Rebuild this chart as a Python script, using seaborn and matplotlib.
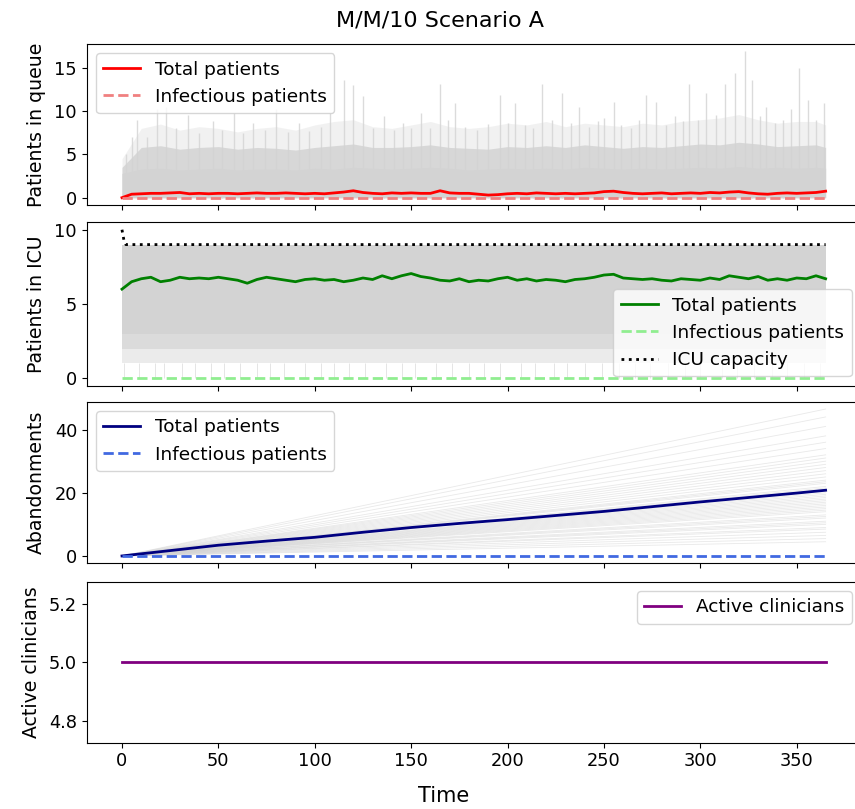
import numpy as np
import pandas as pd
import matplotlib
matplotlib.use("Agg")
import matplotlib.pyplot as plt
import seaborn as sns

# ---------------- data ----------------
t5 = sorted(set(list(range(0, 366, 5)) + [365]))

queue_mean = [0.0, 0.4, 0.45, 0.5, 0.5, 0.55, 0.6, 0.45, 0.5, 0.45, 0.5, 0.5, 0.45, 0.5,
              0.55, 0.5, 0.5, 0.55, 0.5, 0.45, 0.5, 0.45, 0.55, 0.65, 0.8, 0.6, 0.5, 0.45,
              0.55, 0.5, 0.55, 0.5, 0.5, 0.8, 0.55, 0.5, 0.5, 0.4, 0.3, 0.35, 0.45, 0.5,
              0.45, 0.55, 0.5, 0.45, 0.5, 0.45, 0.5, 0.55, 0.7, 0.75, 0.6, 0.5, 0.45, 0.5,
              0.55, 0.45, 0.5, 0.55, 0.5, 0.6, 0.55, 0.65, 0.7, 0.55, 0.45, 0.4, 0.5, 0.55,
              0.5, 0.55, 0.6, 0.75]

icu_mean = [6.0, 6.5, 6.7, 6.8, 6.5, 6.6, 6.8, 6.7, 6.75, 6.7, 6.8, 6.7, 6.6, 6.4, 6.65,
            6.8, 6.7, 6.6, 6.5, 6.65, 6.7, 6.6, 6.65, 6.5, 6.6, 6.75, 6.65, 6.9, 6.7, 6.9,
            7.05, 6.85, 6.75, 6.6, 6.55, 6.7, 6.5, 6.6, 6.55, 6.7, 6.8, 6.6, 6.7, 6.55,
            6.65, 6.6, 6.5, 6.65, 6.7, 6.8, 6.95, 7.0, 6.75, 6.7, 6.65, 6.7, 6.6, 6.55,
            6.7, 6.65, 6.6, 6.75, 6.65, 6.9, 6.8, 6.7, 6.85, 6.6, 6.7, 6.6, 6.75, 6.7,
            6.9, 6.7]

aband_t = [0, 25, 50, 75, 100, 125, 150, 175, 200, 225, 250, 275, 300, 325, 350, 365]
aband_mean = [0.0, 1.7, 3.4, 4.7, 5.9, 7.5, 9.0, 10.3, 11.5, 12.8, 14.1, 15.6, 17.1,
              18.5, 19.9, 20.8]

ends_t = [0, 365]
infectious_zero = [0, 0]
cap_t = [0, 1, 2, 365]
icu_capacity = [10, 9.3, 9, 9]
clinicians = [5, 5]

# grey envelope of individual runs: queue
band_t = list(range(0, 361, 10)) + [365]
queue_core = [2.8, 3.3, 3.4, 3.2, 3.3, 3.4, 3.2, 3.3, 3.3, 3.2, 3.4, 3.3, 3.5, 3.4, 3.3,
              3.4, 3.5, 3.4, 3.2, 3.3, 3.4, 3.3, 3.4, 3.3, 3.5, 3.4, 3.3, 3.4, 3.3, 3.4,
              3.5, 3.4, 3.6, 3.4, 3.5, 3.4, 3.5, 3.4]
queue_upper = [3.5, 5.8, 6.0, 5.6, 5.8, 5.9, 5.6, 5.8, 5.7, 5.5, 5.8, 6.0, 6.2, 5.8, 5.8,
               5.9, 6.1, 5.8, 5.7, 5.6, 5.9, 5.8, 6.0, 5.8, 6.1, 5.9, 5.7, 5.9, 5.8, 6.0,
               6.2, 6.1, 6.4, 6.2, 5.9, 6.0, 6.1, 5.8]
queue_haze = [4.5, 8.0, 8.5, 7.8, 8.2, 8.0, 7.6, 8.0, 8.2, 7.8, 8.4, 8.8, 9.0, 8.2, 8.0,
              8.4, 8.8, 8.2, 8.0, 8.2, 8.6, 8.4, 8.8, 8.2, 8.6, 8.4, 8.2, 8.6, 8.4, 8.8,
              9.0, 9.2, 9.6, 9.0, 8.6, 8.8, 8.8, 8.4]
spike_t = [2, 5, 8, 13, 18, 23, 28, 34, 40, 47, 52, 58, 63, 68, 74, 80, 86, 92, 97, 103,
           108, 115, 120, 125, 130, 136, 141, 146, 150, 155, 160, 165, 169, 173, 178, 184,
           190, 196, 200, 204, 209, 213, 218, 223, 228, 233, 237, 242, 247, 250, 255, 259,
           264, 268, 272, 277, 282, 287, 291, 294, 299, 303, 308, 313, 318, 323, 327, 331,
           334, 339, 343, 347, 351, 356, 360, 364]
spike_h = [5.0, 7.0, 9.0, 7.0, 10.2, 10.5, 8.0, 9.6, 7.5, 8.8, 7.8, 9.8, 7.5, 8.6, 7.8,
           10.2, 7.6, 8.6, 7.7, 8.2, 9.8, 13.6, 13.0, 11.7, 8.0, 9.4, 7.8, 8.6, 8.0, 9.8,
           8.0, 13.1, 9.0, 10.9, 8.2, 7.8, 8.5, 11.9, 8.6, 10.9, 8.4, 8.0, 13.1, 9.0, 12.1,
           8.6, 10.5, 8.2, 8.8, 9.2, 11.1, 8.4, 8.0, 9.0, 11.9, 11.1, 8.4, 9.4, 8.8, 13.1,
           9.0, 12.1, 9.6, 13.1, 14.4, 16.9, 13.6, 9.4, 10.5, 8.6, 9.0, 10.2, 15.0, 11.3,
           9.0, 10.9]

# grey envelope of individual runs: ICU occupancy
icu_band_t = [0, 365]
icu_top = [9, 9]
icu_solid_lo = [3, 3]
icu_mid_lo = [2, 2]
icu_low_lo = [1, 1]
icu_dip_t = [1, 9, 17, 22, 31, 38, 46, 53, 61, 70, 77, 84, 95, 103, 110, 118, 126, 137,
             145, 152, 163, 171, 180, 188, 196, 207, 214, 224, 231, 240, 249, 258, 266,
             274, 283, 292, 300, 311, 319, 328, 337, 345, 354, 362]

# final values of individual abandonment runs
aband_run_final = [4.5, 5.5, 6.5, 7.5, 8.5, 9, 10, 10.5, 11, 12, 12.5, 13, 14, 14.5, 15,
                   15.5, 16, 16.5, 17, 17.5, 18, 18.5, 19, 19.5, 20, 21, 21.5, 22, 23,
                   23.5, 24, 25, 26, 27, 28, 29, 30, 31, 32, 34, 36, 38, 41, 44, 46.5]

# ---------------- figure ----------------
plt.rcParams['font.family'] = ['DejaVu Sans']
plt.rcParams['font.size'] = 12.8
plt.rcParams['axes.labelsize'] = 13.6
plt.rcParams['legend.fontsize'] = 13.3

fig = plt.figure(figsize=(8.55, 8.09), dpi=100)
W, H = 855.0, 809.0
left = 86.8 / W
width = 774.0 / W
panels_px = [(44, 205), (222.3, 385.7), (401.7, 563.3), (581.7, 742.7)]
axes = []
for top, bot in panels_px:
    ax = fig.add_axes([left, 1 - bot / H, width, (bot - top) / H],
                      sharex=axes[0] if axes else None)
    axes.append(ax)

GREY = 'lightgray'

# Panel 1: queue
ax = axes[0]
ax.fill_between(band_t, 0, queue_haze, color=GREY, alpha=0.3, lw=0, zorder=1)
ax.vlines(spike_t, 0, spike_h, color=GREY, lw=1.0, alpha=0.8, zorder=1)
ax.fill_between(band_t, 0, queue_upper, color=GREY, alpha=0.85, lw=0, zorder=1)
ax.fill_between(band_t, 0, queue_core, color=GREY, lw=0, zorder=1)
sns.lineplot(x=t5, y=queue_mean, ax=ax, color='red', lw=2, label='Total patients', zorder=3)
sns.lineplot(x=ends_t, y=infectious_zero, ax=ax, color='lightcoral', lw=2, ls='--',
             label='Infectious patients', zorder=3)
ax.set_ylabel('Patients in queue', labelpad=6)
ax.legend(loc='upper left')

# Panel 2: ICU
ax = axes[1]
ax.vlines(icu_dip_t, 0, 1, color=GREY, lw=0.7, alpha=0.6, zorder=1)
ax.fill_between(icu_band_t, icu_low_lo, icu_mid_lo, color=GREY, alpha=0.45, lw=0, zorder=1)
ax.fill_between(icu_band_t, icu_mid_lo, icu_solid_lo, color=GREY, alpha=0.8, lw=0, zorder=1)
ax.fill_between(icu_band_t, icu_solid_lo, icu_top, color=GREY, lw=0, zorder=1)
sns.lineplot(x=t5, y=icu_mean, ax=ax, color='green', lw=2, label='Total patients', zorder=3)
sns.lineplot(x=ends_t, y=infectious_zero, ax=ax, color='lightgreen', lw=2, ls='--',
             label='Infectious patients', zorder=3)
sns.lineplot(x=cap_t, y=icu_capacity, ax=ax, color='black', lw=2, ls=':',
             label='ICU capacity', zorder=3)
ax.set_ylabel('Patients in ICU', labelpad=6)
ax.legend(loc='lower right')

# Panel 3: abandonments
ax = axes[2]
for f in aband_run_final:
    ax.plot(ends_t, [0, f], color=GREY, lw=0.6, alpha=0.5, zorder=1)
sns.lineplot(x=aband_t, y=aband_mean, ax=ax, color='navy', lw=2, label='Total patients', zorder=3)
sns.lineplot(x=ends_t, y=infectious_zero, ax=ax, color='royalblue', lw=2, ls='--',
             label='Infectious patients', zorder=3)
ax.set_ylabel('Abandonments', labelpad=6)
ax.legend(loc='upper left')

# Panel 4: clinicians
ax = axes[3]
sns.lineplot(x=ends_t, y=clinicians, ax=ax, color='purple', lw=2, label='Active clinicians')
ax.set_ylabel('Active clinicians', labelpad=6)
ax.legend(loc='upper right')

for ax in axes[:3]:
    ax.tick_params(labelbottom=False)
    ax.set_xlabel('')
axes[3].set_xlabel('')

fig.text(440 / W, 1 - 20 / H, 'M/M/10 Scenario A', ha='center', va='center', fontsize=16)
fig.text(444 / W, 1 - 796 / H, 'Time', ha='center', va='center', fontsize=15)

fig.savefig('out.png', dpi=100)
